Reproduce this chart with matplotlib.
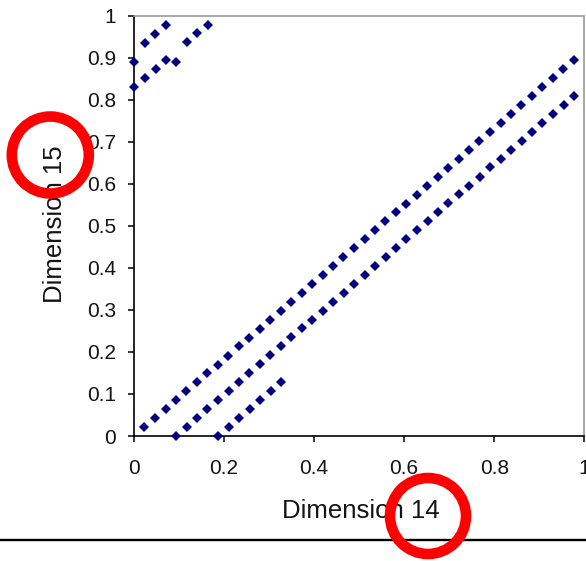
import matplotlib
matplotlib.use("Agg")
import matplotlib.pyplot as plt
from matplotlib.patches import Ellipse
from matplotlib.lines import Line2D

plt.rcParams['font.family'] = ['Liberation Sans', 'DejaVu Sans']

# ---- data (Dimension 14 vs Dimension 15) ----
band_a_x = [0.023, 0.047, 0.070, 0.093, 0.116, 0.140, 0.163, 0.186, 0.209, 0.233,
            0.256, 0.279, 0.302, 0.326, 0.349, 0.372, 0.395, 0.419, 0.442, 0.465,
            0.488, 0.512, 0.535, 0.558, 0.581, 0.605, 0.628, 0.651, 0.674, 0.698,
            0.721, 0.744, 0.767, 0.791, 0.814, 0.837, 0.860, 0.884, 0.907, 0.930,
            0.953, 0.977]
band_a_y = [0.021, 0.043, 0.064, 0.085, 0.106, 0.128, 0.149, 0.170, 0.191, 0.213,
            0.234, 0.255, 0.277, 0.298, 0.319, 0.340, 0.362, 0.383, 0.404, 0.426,
            0.447, 0.468, 0.489, 0.511, 0.532, 0.553, 0.574, 0.596, 0.617, 0.638,
            0.660, 0.681, 0.702, 0.723, 0.745, 0.766, 0.787, 0.809, 0.830, 0.851,
            0.872, 0.894]

band_b_x = [0.001, 0.024, 0.047, 0.070]
band_b_y = [0.891, 0.936, 0.957, 0.979]

band_c_x = [0.094, 0.117, 0.140, 0.163, 0.187, 0.210, 0.233, 0.256, 0.280, 0.303,
            0.326, 0.349, 0.373, 0.396, 0.419, 0.442, 0.466, 0.489, 0.512, 0.535,
            0.559, 0.582, 0.605, 0.628, 0.652, 0.675, 0.698, 0.721, 0.745, 0.768,
            0.791, 0.814, 0.838, 0.861, 0.884, 0.907, 0.931, 0.954, 0.977]
band_c_y = [0.000, 0.022, 0.043, 0.064, 0.086, 0.107, 0.128, 0.149, 0.171, 0.192,
            0.213, 0.235, 0.256, 0.277, 0.298, 0.320, 0.341, 0.362, 0.383, 0.405,
            0.426, 0.447, 0.469, 0.490, 0.511, 0.532, 0.554, 0.575, 0.596, 0.617,
            0.639, 0.660, 0.681, 0.703, 0.724, 0.745, 0.766, 0.788, 0.809]

band_d_x = [0.001, 0.024, 0.048, 0.071, 0.094, 0.117, 0.141, 0.164]
band_d_y = [0.830, 0.852, 0.873, 0.894, 0.891, 0.937, 0.958, 0.979]

band_e_x = [0.187, 0.210, 0.234, 0.257, 0.280, 0.304, 0.327]
band_e_y = [0.001, 0.022, 0.043, 0.065, 0.086, 0.107, 0.129]

x_ticks = [0, 0.2, 0.4, 0.6, 0.8, 1]
x_tick_labels = ['0', '0.2', '0.4', '0.6', '0.8', '1']
y_ticks = [0, 0.1, 0.2, 0.3, 0.4, 0.5, 0.6, 0.7, 0.8, 0.9, 1]
y_tick_labels = ['0', '0.1', '0.2', '0.3', '0.4', '0.5', '0.6', '0.7', '0.8', '0.9', '1']

x_label = 'Dimension 14'
y_label = 'Dimension 15'

# ---- figure ----
W, H = 586, 561
fig = plt.figure(figsize=(W / 100, H / 100), dpi=100)
ax = fig.add_axes([134 / W, 1 - 436 / H, (584.3 - 134) / W, (436 - 15.7) / H])

marker_color = '#000080'
for bx, by in [(band_a_x, band_a_y), (band_b_x, band_b_y), (band_c_x, band_c_y),
               (band_d_x, band_d_y), (band_e_x, band_e_y)]:
    ax.plot(bx, by, linestyle='none', marker='D', markersize=5.2,
            markeredgewidth=0, color=marker_color, clip_on=False, zorder=3)

ax.set_xlim(0, 1)
ax.set_ylim(0, 1)
ax.set_xticks(x_ticks)
ax.set_xticklabels(x_tick_labels)
ax.set_yticks(y_ticks)
ax.set_yticklabels(y_tick_labels)

ax.tick_params(axis='both', direction='out', length=4.3, width=1.1,
               colors='black', labelsize=15, labelcolor='#141414')
ax.tick_params(axis='x', pad=12)
ax.tick_params(axis='y', pad=8.5)

for side in ['left', 'bottom']:
    ax.spines[side].set_color('black')
    ax.spines[side].set_linewidth(1.2)
for side in ['top', 'right']:
    ax.spines[side].set_color('#9a9a9a')
    ax.spines[side].set_linewidth(1.2)

fig.text(360.5 / W, 1 - 511 / H, x_label, ha='center', va='center',
         fontsize=18.5, color='#141414')
fig.text(55 / W, 1 - 224.5 / H, y_label, ha='center', va='center',
         rotation=90, fontsize=18.5, color='#141414')

# bottom rule
fig.add_artist(Line2D([0, 1], [1 - 540.2 / H, 1 - 540.2 / H],
                      transform=fig.transFigure, color='black', linewidth=1.7))

# red highlight circles
for cx, cy, r in [(50.3, 155, 38.5), (428, 516, 38)]:
    fig.add_artist(Ellipse((cx / 100, (H - cy) / 100), 2 * r / 100, 2 * r / 100,
                           transform=fig.dpi_scale_trans, fill=False,
                           edgecolor='#ff0000', linewidth=7.6, zorder=10))

fig.savefig('out.png', dpi=100)
